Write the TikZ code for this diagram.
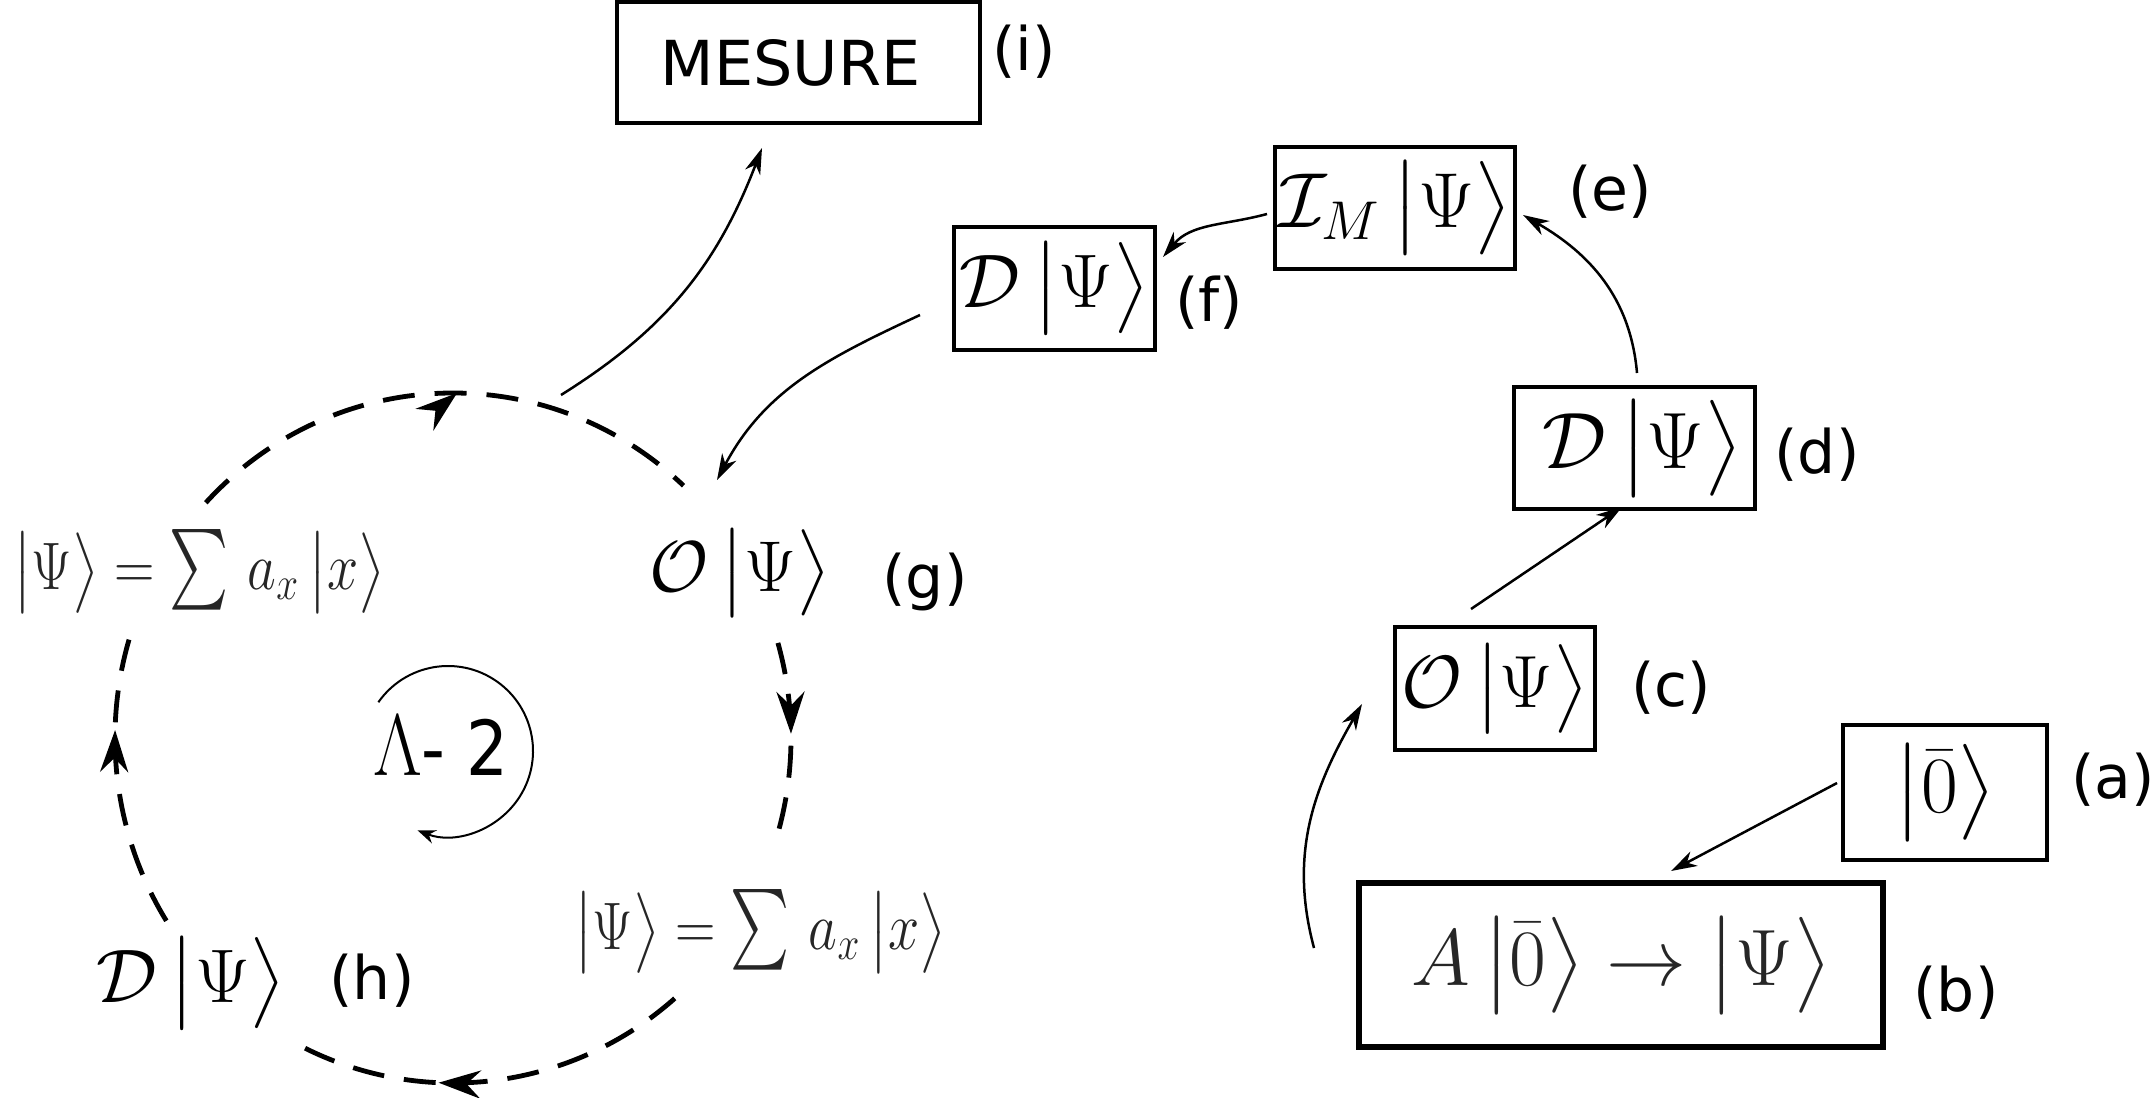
\RequirePackage{fix-cm}
\documentclass[tikz,border=0pt]{standalone}
\usepackage{graphicx}
\usepackage[no-math]{fontspec}
\DeclareFontShape{OMX}{cmex}{m}{n}{<->cmex10}{}
\newfontfamily\dv{DejaVu Sans}
\usetikzlibrary{arrows.meta,decorations.markings}
\newcommand\kt[1]{\mathinner{\left|\vcenter to 1.25em{}#1\right\rangle}}
\newcommand\bsum{\mathop{\scalebox{1}[1.2]{$\sum$}}\,}
\begin{document}
\begin{tikzpicture}[x=0.5pt,y=-0.5pt,
  box/.style={draw, line width=1.6pt, inner sep=0pt, align=center},
  lbl/.style={font=\dv\fontsize{30}{36}\selectfont, inner sep=0pt},
  mth/.style={inner sep=0pt, font=\fontsize{#1}{#1}\selectfont},
  arr/.style={line width=1.25pt, -{Stealth[length=13pt,width=8pt,inset=4pt]}},
  dcirc/.style={line width=2.4pt, dash pattern=on 16pt off 10pt},
  dmark/.style 2 args={postaction={decorate, decoration={markings,
      mark=at position #1 with {\pgftransformrotate{#2}\arrow{Stealth[length=21pt,width=14pt,inset=7pt]}}}}},
]
\useasboundingbox (0,0) rectangle (2150,1097);

% boxes
\node[box, line width=2pt, minimum width=181.5pt, minimum height=60.5pt,
      font=\dv\fontsize{31}{37}\selectfont] (mes) at (798.5,62.5) {MESURE\hspace*{8pt}};
\node[lbl] (li) at (1024,52) {(i)};

\node[box, minimum width=120pt, minimum height=61pt, font=\fontsize{39}{46}\selectfont]
  (ebox) at (1395,208) {$\mathcal{I}_M\kt{\Psi}$};
\node[lbl] (le) at (1610,192) {(e)};

\node[box, minimum width=100.5pt, minimum height=61.5pt, font=\fontsize{38}{46}\selectfont]
  (fbox) at (1054.5,288.5) {$\mathcal{D}\kt{\Psi}$};
\node[lbl] (lf) at (1209,303) {(f)};

\node[box, minimum width=120.5pt, minimum height=61pt, font=\fontsize{40}{46}\selectfont]
  (dbox) at (1634.5,448) {\hspace*{8pt}$\mathcal{D}\kt{\Psi}$};
\node[lbl] (ld) at (1817,455) {(d)};

\node[box, minimum width=100pt, minimum height=61.5pt, font=\fontsize{37}{44}\selectfont]
  (cbox) at (1495,688.5) {$\mathcal{O}\kt{\Psi}$};
\node[lbl] (lc) at (1671,688) {(c)};

\node[box, minimum width=102pt, minimum height=67.5pt, font=\fontsize{40}{46}\selectfont]
  (abox) at (1945,792.5) {$\kt{\bar{0}}$};
\node[lbl] (la) at (2113,780) {(a)};

\node[box, line width=2.8pt, minimum width=262pt, minimum height=82pt,
      font=\fontsize{40}{48}\selectfont, text=black!85]
  (bbox) at (1621,965) {$A\kt{\bar{0}}\rightarrow\kt{\Psi}$};
\node[lbl] (lb) at (1956,993) {(b)};

% loop nodes
\node[mth=36] (g) at (740,573) {$\mathcal{O}\kt{\Psi}$};
\node[lbl] (lg) at (925,582) {(g)};
\node[mth=38] (h) at (191,983) {$\mathcal{D}\kt{\Psi}$};
\node[lbl] (lh) at (372,981) {(h)};
\node[mth=28, text=black!85] (s1) at (199,572)
  {\scalebox{1}[1.2]{$\kt{\Psi}=\bsum a_x\kt{x}$}};
\node[mth=28, text=black!85] (s2) at (760,932)
  {\scalebox{1}[1.2]{$\kt{\Psi}=\bsum a_x\kt{x}$}};
\node[inner sep=0pt] (lam) at (441,746)
  {\scalebox{1}[1.15]{{\fontsize{38}{46}\selectfont$\Lambda$}{\dv\fontsize{33}{40}\selectfont- 2}}};

% dashed loop
\coordinate (circ) at (453,738);
\draw[dcirc, dmark={0.53}{40}] ([shift={(137:169pt and 172.5pt)}]circ)
  arc[start angle=137, end angle=47, x radius=169pt, y radius=172.5pt];
\draw[dcirc, dmark={0.45}{0}] ([shift={(16:169pt and 172.5pt)}]circ)
  arc[start angle=16, end angle=-18, x radius=169pt, y radius=172.5pt];
\draw[dcirc, dmark={0.63}{0}] ([shift={(-49:169pt and 172.5pt)}]circ)
  arc[start angle=-49, end angle=-118, x radius=169pt, y radius=172.5pt];
\draw[dcirc, dmark={0.68}{0}] ([shift={(212:169pt and 172.5pt)}]circ)
  arc[start angle=212, end angle=163, x radius=169pt, y radius=172.5pt];

% small loop around Lambda
\coordinate (lamc) at (448,751);
\draw[line width=1pt, -{Stealth[length=9pt,width=7pt,inset=3pt]}]
  ([shift={(145:42.5pt)}]lamc) arc[start angle=145, end angle=-111, radius=42.5pt];

% connectors
\draw[arr] ([xshift=-54pt,yshift=4.75pt]abox.center) -- ([xshift=25pt,yshift=47pt]bbox.center);
\draw[arr] ([xshift=-153.5pt,yshift=8.5pt]bbox.center) to[out=105,in=240]
  ([xshift=-66.5pt,yshift=-7.75pt]cbox.center);
\draw[arr] ([xshift=-12pt,yshift=39.75pt]cbox.center) -- ([xshift=-6.25pt,yshift=-29.5pt]dbox.center);
\draw[arr] ([xshift=1.25pt,yshift=37.5pt]dbox.center) to[out=95,in=-30]
  ([xshift=64pt,yshift=-3.5pt]ebox.center);
\draw[arr] ([xshift=-64pt,yshift=-3pt]ebox.center) to[out=195,in=50]
  ([xshift=54.25pt,yshift=15.75pt]fbox.center);
\draw[arr] ([xshift=-67.25pt,yshift=-13.25pt]fbox.center) to[out=205,in=62]
  ([xshift=-11.5pt,yshift=46.5pt]g.center);
\draw[arr] ([xshift=54pt,yshift=171.5pt]circ) to[out=32,in=249]
  ([xshift=-18.25pt,yshift=-42.75pt]mes.center);
\end{tikzpicture}
\end{document}
